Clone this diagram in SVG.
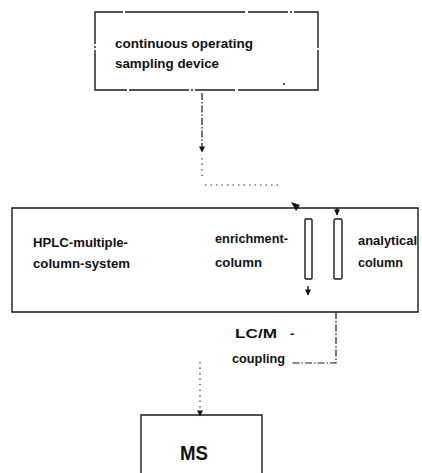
<svg xmlns="http://www.w3.org/2000/svg" width="422" height="473" viewBox="0 0 422 473">
<defs>
<marker id="ah" viewBox="0 0 10 10" refX="9" refY="5" markerWidth="7" markerHeight="6" markerUnits="userSpaceOnUse" orient="auto">
<path d="M0,0 L10,5 L0,10 Z" fill="#111"/>
</marker>
<style>
.box{fill:none;stroke:#1a1a1a;stroke-width:1.4}
.col{fill:#fff;stroke:#1a1a1a;stroke-width:1.4}
.dash{fill:none;stroke:#1a1a1a;stroke-width:1.2;stroke-dasharray:7 2 1.5 2}
.dot{fill:none;stroke:#333;stroke-width:1.1;stroke-dasharray:1.5 4}
.t{font-family:"Liberation Sans",Arial,sans-serif;font-weight:bold;font-size:13px;fill:#111}
.big{font-family:"Liberation Sans",Arial,sans-serif;font-weight:bold;font-size:21px;fill:#111}
</style>
</defs>
<rect width="422" height="473" fill="#fff"/>

<g id="sampling-device">
<path class="box" d="M95,90 V12 H318 V90 Z" stroke-dasharray="40 2 2 2 60 2 120 3"/>
<circle cx="284" cy="84" r="1" fill="#111"/>
<text class="t" x="115" y="48" textLength="138" lengthAdjust="spacingAndGlyphs">continuous operating</text>
<text class="t" x="115" y="68" textLength="104" lengthAdjust="spacingAndGlyphs">sampling device</text>
</g>

<g id="hplc-system">
<path class="box" d="M12,208 H418 V312 H12 Z"/>
<text class="t" x="33" y="247" textLength="95" lengthAdjust="spacingAndGlyphs">HPLC-multiple-</text>
<text class="t" x="33" y="268" textLength="97" lengthAdjust="spacingAndGlyphs">column-system</text>
<text class="t" x="215" y="243" textLength="73" lengthAdjust="spacingAndGlyphs">enrichment-</text>
<text class="t" x="215" y="267" textLength="47" lengthAdjust="spacingAndGlyphs">column</text>
<text class="t" x="358" y="245" textLength="59" lengthAdjust="spacingAndGlyphs">analytical</text>
<text class="t" x="358" y="267" textLength="45" lengthAdjust="spacingAndGlyphs">column</text>
</g>

<g id="enrichment-column">
<rect class="col" x="305" y="219" width="7" height="60" rx="1"/>
</g>

<g id="analytical-column">
<rect class="col" x="334" y="219" width="8" height="60" rx="1.5"/>
</g>

<g id="ms">
<path class="box" d="M141,473 V415 H262 V473"/>
<text class="big" x="194" y="460" text-anchor="middle" textLength="28" lengthAdjust="spacingAndGlyphs">MS</text>
</g>

<g id="connectors">
<line class="dash" x1="202" y1="93" x2="202" y2="152" marker-end="url(#ah)"/>
<path class="dot" d="M202,158 V180 M205,185 H282"/>
<path d="M291,202 L300,205 L296,211 Z" fill="#111"/>
<line class="box" x1="337" y1="208" x2="337" y2="215" marker-end="url(#ah)"/>
<line class="box" x1="308" y1="286" x2="308" y2="295" marker-end="url(#ah)"/>
<path class="dash" d="M336,312 V363 H292"/>
<line class="dot" x1="200" y1="362" x2="200" y2="416" marker-end="url(#ah)"/>
<text class="t" x="235" y="338" textLength="42" lengthAdjust="spacingAndGlyphs">LC/M</text>
<text class="t" x="290" y="338">-</text>
<text class="t" x="232" y="363" textLength="53" lengthAdjust="spacingAndGlyphs">coupling</text>
</g>
</svg>
